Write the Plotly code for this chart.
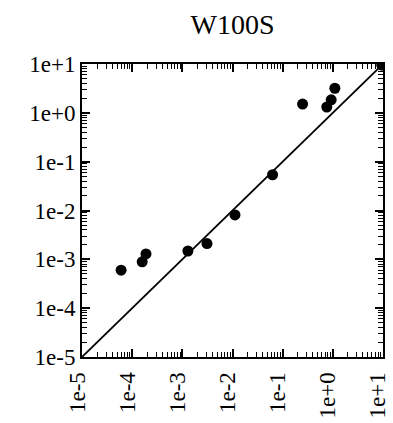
import plotly.graph_objects as go

# Data (log-log scatter)
x_vals = [6.0e-5, 1.58e-4, 1.88e-4, 1.29e-3, 3.1e-3, 1.12e-2, 0.063, 0.25, 0.76, 0.93, 1.1, 9.5]
y_vals = [6.0e-4, 8.9e-4, 1.29e-3, 1.48e-3, 2.1e-3, 8.1e-3, 0.054, 1.52, 1.32, 1.85, 3.2, 9.5]
line_x = [1e-5, 1e1]
line_y = [1e-5, 1e1]
tick_vals = [1e-5, 1e-4, 1e-3, 1e-2, 1e-1, 1e0, 1e1]
tick_text = ["1e-5", "1e-4", "1e-3", "1e-2", "1e-1", "1e+0", "1e+1"]
minor_vals = [m * 10.0 ** d for d in range(-5, 1) for m in range(2, 10)]
title_text = "W100S"

font_family = "Liberation Serif"

fig = go.Figure()
fig.add_trace(go.Scatter(x=line_x, y=line_y, mode="lines",
                         line=dict(color="black", width=1.8), showlegend=False))
fig.add_trace(go.Scatter(x=x_vals, y=y_vals, mode="markers",
                         marker=dict(color="black", size=11), showlegend=False))

axis_common = dict(
    type="log",
    range=[-5.002, 1.002],
    tickmode="array",
    tickvals=tick_vals,
    ticktext=tick_text,
    ticks="inside",
    ticklen=8,
    tickwidth=2,
    tickcolor="#000000",
    showline=True,
    linecolor="black",
    linewidth=2,
    mirror="allticks",
    showgrid=False,
    zeroline=False,
    automargin=False,
    ticklabeloverflow="allow",
    tickfont=dict(family=font_family, size=23, color="black"),
    minor=dict(tickmode="array", tickvals=minor_vals, ticks="inside", ticklen=5,
               tickwidth=1.2, tickcolor="#000000", showgrid=False),
)

fig.update_xaxes(**axis_common, tickangle=-90, ticklabelshift=-5, ticklabelstandoff=4)
fig.update_yaxes(**axis_common)

fig.update_layout(
    width=393, height=423,
    margin=dict(l=82, r=10, t=64, b=66),
    paper_bgcolor="white", plot_bgcolor="white",
    title=dict(text=title_text, x=0.5, xref="paper", y=1 - 24 / 423, yref="container",
               xanchor="center", yanchor="middle",
               font=dict(family=font_family, size=28, color="black")),
)

fig.write_html("out.html")
